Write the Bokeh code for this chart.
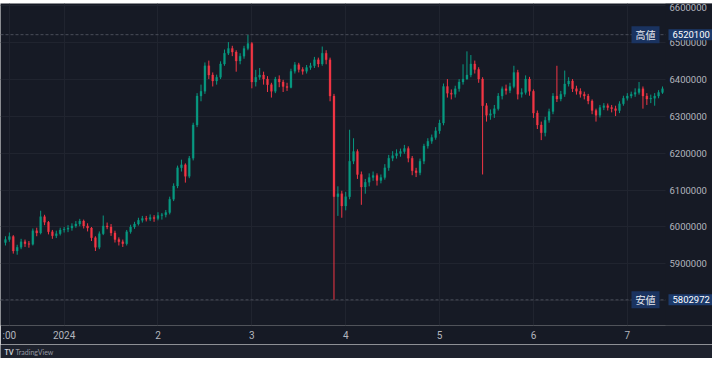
import pandas as pd
from bokeh.plotting import figure
from bokeh.models import ColumnDataSource, Range1d, FixedTicker, Span, Label, BoxAnnotation
from bokeh.layouts import column
from bokeh.embed import file_html
from bokeh.resources import INLINE

# ---------------- data (hourly candles, prices in thousand JPY) ----------------
start_time = "2023-12-31 09:00"
first_open_k = 5958

close_k = [
    5966, 5974, 5935, 5945, 5960, 5955, 5953, 5990, 5984, 6028,
    6013, 5987, 5976, 5982, 5992, 5994, 5997, 6003, 6008, 6016,
    6003, 5997, 5971, 5945, 5982, 6003, 6000, 5984, 5966, 5960,
    5955, 5987, 6000, 6008, 6018, 6023, 6021, 6026, 6023, 6031,
    6033, 6039, 6075, 6111, 6160, 6168, 6137, 6186, 6276, 6354,
    6367, 6436, 6411, 6395, 6405, 6441, 6470, 6483, 6473, 6449,
    6462, 6483, 6496, 6392, 6405, 6411, 6400, 6385, 6367, 6400,
    6392, 6380, 6377, 6421, 6439, 6426, 6421, 6431, 6436, 6452,
    6441, 6470, 6452, 6354, 6082, 6090, 6057, 6082, 6178, 6204,
    6142, 6108, 6121, 6134, 6139, 6126, 6134, 6160, 6186, 6193,
    6199, 6204, 6212, 6186, 6152, 6147, 6178, 6219, 6232, 6242,
    6260, 6281, 6380, 6362, 6359, 6374, 6392, 6400, 6411, 6441,
    6426, 6400, 6328, 6302, 6306, 6320, 6354, 6374, 6369, 6380,
    6418, 6359, 6364, 6400, 6367, 6308, 6276, 6255, 6289, 6312,
    6354, 6346, 6359, 6387, 6395, 6374, 6367, 6359, 6354, 6341,
    6315, 6302, 6323, 6328, 6323, 6320, 6315, 6333, 6348, 6354,
    6359, 6364, 6374, 6354, 6346, 6348, 6354, 6364, 6374,
]

high_k = [
    5975, 5985, 5978, 5952, 5968, 5966, 5962, 5996, 5998, 6044,
    6033, 6016, 5992, 5990, 5998, 6000, 6005, 6010, 6016, 6022,
    6020, 6010, 6000, 5975, 5988, 6031, 6012, 6008, 5990, 5972,
    5966, 5992, 6006, 6014, 6025, 6030, 6030, 6034, 6032, 6040,
    6038, 6046, 6082, 6118, 6166, 6182, 6172, 6192, 6282, 6362,
    6385, 6445, 6450, 6418, 6412, 6448, 6480, 6500, 6490, 6478,
    6470, 6490, 6520.1, 6500, 6425, 6430, 6420, 6408, 6390, 6406,
    6410, 6398, 6390, 6428, 6446, 6444, 6432, 6438, 6444, 6460,
    6458, 6488, 6478, 6458, 6360, 6110, 6098, 6095, 6263, 6240,
    6210, 6150, 6130, 6145, 6150, 6145, 6142, 6170, 6195, 6205,
    6210, 6212, 6222, 6218, 6192, 6160, 6185, 6225, 6240, 6250,
    6270, 6290, 6388, 6400, 6372, 6382, 6400, 6440, 6475, 6465,
    6450, 6432, 6405, 6335, 6318, 6330, 6362, 6380, 6385, 6390,
    6436, 6425, 6375, 6410, 6406, 6372, 6315, 6285, 6298, 6320,
    6362, 6436, 6368, 6423, 6405, 6400, 6382, 6375, 6366, 6360,
    6345, 6320, 6330, 6335, 6334, 6330, 6328, 6340, 6355, 6362,
    6366, 6375, 6392, 6380, 6362, 6358, 6362, 6370, 6380,
]

low_k = [
    5950, 5960, 5928, 5925, 5940, 5946, 5944, 5950, 5975, 5980,
    6005, 5980, 5968, 5970, 5977, 5985, 5986, 5990, 5998, 6002,
    5996, 5988, 5962, 5935, 5940, 5978, 5994, 5976, 5958, 5950,
    5946, 5950, 5982, 5995, 6004, 6012, 6015, 6016, 6014, 6018,
    6020, 6026, 6034, 6070, 6105, 6150, 6120, 6132, 6180, 6270,
    6340, 6360, 6400, 6380, 6385, 6400, 6436, 6465, 6462, 6420,
    6440, 6455, 6478, 6375, 6380, 6398, 6385, 6365, 6350, 6362,
    6378, 6365, 6368, 6375, 6415, 6418, 6412, 6415, 6425, 6430,
    6432, 6436, 6440, 6340, 5802.972, 6030, 6025, 6045, 6075, 6170,
    6130, 6060, 6090, 6110, 6125, 6112, 6118, 6128, 6152, 6178,
    6185, 6190, 6198, 6175, 6140, 6135, 6140, 6170, 6212, 6225,
    6236, 6252, 6275, 6350, 6345, 6350, 6366, 6385, 6398, 6405,
    6415, 6390, 6142, 6285, 6290, 6295, 6315, 6345, 6358, 6362,
    6375, 6345, 6350, 6358, 6355, 6295, 6265, 6235, 6245, 6282,
    6305, 6338, 6340, 6352, 6380, 6365, 6358, 6350, 6345, 6332,
    6305, 6285, 6296, 6316, 6315, 6310, 6300, 6308, 6328, 6342,
    6348, 6352, 6358, 6320, 6330, 6335, 6328, 6348, 6360,
]

price_ticks = [5800000, 5900000, 6000000, 6100000, 6200000,
               6300000, 6400000, 6500000, 6600000]
time_ticks = ["2023-12-31 10:00", "2024-01-01", "2024-01-02", "2024-01-03",
              "2024-01-04", "2024-01-05", "2024-01-06", "2024-01-07"]
time_labels = [":00", "2024", "2", "3", "4", "5", "6", "7"]
high_name = "高値"
low_name = "安値"

# ---------------- build ----------------
closes = [round(v * 1000) for v in close_k]
highs = [round(v * 1000) for v in high_k]
lows = [round(v * 1000) for v in low_k]
opens = [first_open_k * 1000] + closes[:-1]
times = pd.date_range(start_time, periods=len(closes), freq="h")

UP, DOWN = "#089981", "#f23645"
colors = [UP if c >= o else DOWN for o, c in zip(opens, closes)]
src = ColumnDataSource(dict(
    t=times, o=opens, c=closes, h=highs, l=lows,
    top=[max(o, c) for o, c in zip(opens, closes)],
    bot=[min(o, c) for o, c in zip(opens, closes)],
    col=colors,
))

BG = "#161a25"
EDGE = "#1e222d"
TXT = "#b2b5be"
GRID = "#20242f"

W, H_TOP, H_MAIN, H_FOOT = 712, 3, 341, 14
PANE_W = 665                      # width of the candle pane; the rest is the price scale
x_start = pd.Timestamp("2023-12-31 07:44")
x_end = pd.Timestamp("2024-01-07 09:46")      # right edge of candle pane
x_full = x_start + (x_end - x_start) * (W / PANE_W)

p = figure(width=W, height=H_MAIN, x_axis_type="datetime",
           x_range=Range1d(x_start, x_full),
           y_range=Range1d(5733600, 6604400),
           y_axis_location="right", toolbar_location=None,
           output_backend="svg",
           min_border_left=0, min_border_top=0,
           min_border_right=0, min_border_bottom=19)
p.background_fill_color = BG
p.border_fill_color = BG
p.outline_line_color = None

bar_w = 0.5 * 3600 * 1000
p.segment(x0="t", y0="l", x1="t", y1="h", source=src, line_color="col", line_width=1)
p.vbar(x="t", width=bar_w, top="top", bottom="bot", source=src,
       fill_color="col", line_color="col", line_width=0.3)

# axes
tick_ms = [pd.Timestamp(t).value // 10**6 for t in time_ticks]
xt = FixedTicker(ticks=tick_ms)
p.xaxis.ticker = xt
p.xgrid.ticker = xt
p.xaxis.major_label_overrides = {ms: lab for ms, lab in zip(tick_ms, time_labels)}
yt = FixedTicker(ticks=price_ticks)
p.yaxis.ticker = yt
p.ygrid.ticker = yt
p.yaxis.major_label_overrides = {v: str(v) for v in price_ticks}

for ax in (p.xaxis[0], p.yaxis[0]):
    ax.axis_line_color = None
    ax.major_tick_line_color = None
    ax.minor_tick_line_color = None
    ax.major_tick_out = 0
    ax.major_tick_in = 0
    ax.major_label_text_color = TXT
    ax.major_label_text_font = "Roboto"
p.xaxis.major_label_text_font_size = "10px"
p.yaxis.major_label_text_font_size = "9.5px"
p.xaxis.major_label_standoff = 4
# price labels are drawn inside the price-scale strip at the right of the pane
p.yaxis.major_label_standoff = -(W - PANE_W) + 4

p.xgrid.grid_line_color = GRID
p.ygrid.grid_line_color = GRID

# high / low markers
high_value = max(highs)
low_value = min(lows)
for val in (high_value, low_value):
    p.add_layout(Span(location=val, dimension="width", line_color="#4a4e5a",
                      line_dash="3 2", line_width=1, level="glyph"))

# price-scale strip: hides the grid behind the price labels
p.add_layout(BoxAnnotation(left=x_end, fill_color=BG, fill_alpha=1,
                           line_color=None, level="glyph"))

for val, name in ((high_value, high_name), (low_value, low_name)):
    p.add_layout(Label(x=x_end, y=val, text=name, text_align="right",
                       text_baseline="middle", x_offset=-6,
                       text_font="Noto Sans CJK JP", text_font_size="10px",
                       text_color="#e8eaf0", background_fill_color="#1a3360",
                       padding=dict(left=4, right=4, top=1, bottom=1)))
    p.add_layout(Label(x=x_end, y=val, text=str(val), text_align="left",
                       text_baseline="middle", x_offset=3,
                       text_font="Roboto", text_font_size="9.5px",
                       text_color="#ffffff", background_fill_color="#1c3a6b",
                       padding=dict(left=4, right=5, top=2, bottom=2)))


def strip(height):
    s = figure(width=W, height=height, x_range=Range1d(0, W), y_range=Range1d(0, height),
               toolbar_location=None, output_backend="svg", min_border=0)
    s.axis.visible = False
    s.grid.visible = False
    s.outline_line_color = None
    s.background_fill_color = EDGE
    s.border_fill_color = EDGE
    return s


top = strip(H_TOP)
foot = strip(H_FOOT)
foot.add_layout(Label(x=4, y=7, x_units="screen", y_units="screen", text="TV",
                      text_font="Lato", text_font_style="bold", text_font_size="7px",
                      text_color="#d1d4dc", text_baseline="middle"))
foot.add_layout(Label(x=15, y=7, x_units="screen", y_units="screen", text="TradingView",
                      text_font="Lato", text_font_size="7px",
                      text_color="#9598a1", text_baseline="middle"))

layout = column(top, p, foot, spacing=0)
open("out.html", "w").write(file_html(layout, INLINE))
